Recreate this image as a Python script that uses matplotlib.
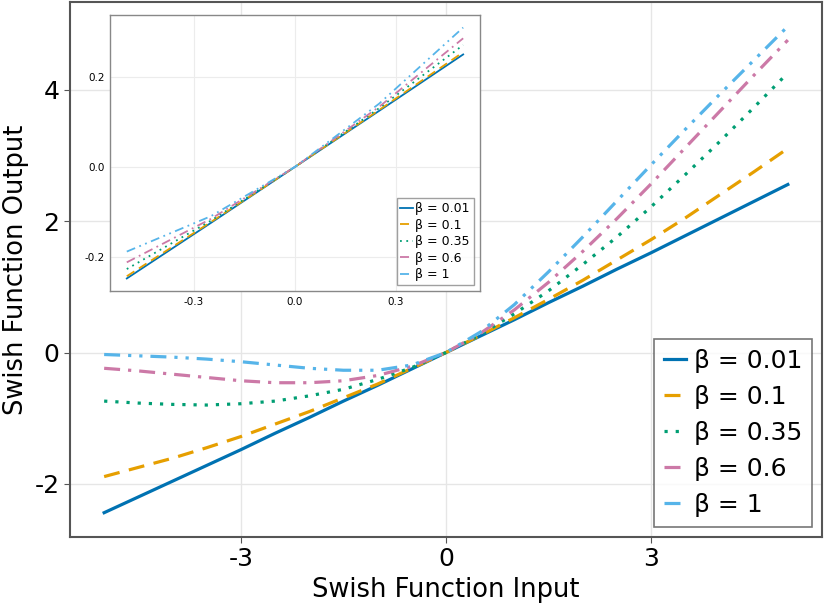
import matplotlib.pyplot as plt

# values
x_main = [-5, -4.5, -4, -3.5, -3, -2.5, -2, -1.5, -1, -0.5, 0,
          0.5, 1, 1.5, 2, 2.5, 3, 3.5, 4, 4.5, 5]
y_b001 = [-2.44, -2.20, -1.96, -1.72, -1.48, -1.23, -0.99, -0.74, -0.50, -0.25, 0.0,
          0.25, 0.50, 0.76, 1.01, 1.27, 1.52, 1.78, 2.04, 2.30, 2.56]
y_b01 = [-1.89, -1.75, -1.61, -1.45, -1.28, -1.09, -0.90, -0.69, -0.48, -0.24, 0.0,
         0.26, 0.53, 0.81, 1.10, 1.41, 1.72, 2.05, 2.40, 2.75, 3.11]
y_b035 = [-0.74, -0.77, -0.79, -0.80, -0.78, -0.74, -0.66, -0.56, -0.41, -0.23, 0.0,
          0.27, 0.59, 0.94, 1.34, 1.76, 2.22, 2.71, 3.21, 3.73, 4.26]
y_b06 = [-0.24, -0.28, -0.33, -0.38, -0.43, -0.46, -0.46, -0.43, -0.35, -0.21, 0.0,
         0.29, 0.65, 1.07, 1.54, 2.04, 2.57, 3.12, 3.67, 4.22, 4.76]
y_b1 = [-0.03, -0.05, -0.07, -0.10, -0.14, -0.19, -0.24, -0.27, -0.27, -0.19, 0.0,
        0.31, 0.73, 1.23, 1.76, 2.31, 2.86, 3.40, 3.93, 4.45, 4.97]

x_zoom = [-0.5, -0.25, 0.0, 0.25, 0.5]
z_b001 = [-0.249, -0.125, 0.0, 0.125, 0.251]
z_b01 = [-0.244, -0.123, 0.0, 0.127, 0.256]
z_b035 = [-0.228, -0.120, 0.0, 0.131, 0.272]
z_b06 = [-0.213, -0.116, 0.0, 0.134, 0.287]
z_b1 = [-0.189, -0.110, 0.0, 0.141, 0.311]

labels = ['β = 0.01', 'β = 0.1', 'β = 0.35', 'β = 0.6', 'β = 1']
colors = ['#0072B2', '#E69F00', '#009E73', '#CC79A7', '#56B4E9']
styles = ['-', (0, (5, 3)), (0, (1, 2.5)), (0, (5, 2.5, 1, 2.5)),
          (0, (5, 2.5, 1, 2.5, 1, 2.5))]

main_series = [y_b001, y_b01, y_b035, y_b06, y_b1]
zoom_series = [z_b001, z_b01, z_b035, z_b06, z_b1]

fig = plt.figure(figsize=(8.25, 6.15), dpi=100)
ax = fig.add_axes([0.0848, 0.1268, 0.9116, 0.87])

for ys, lab, c, ls in zip(main_series, labels, colors, styles):
    ax.plot(x_main, ys, color=c, linestyle=ls, linewidth=2.3, label=lab)

ax.set_xticks([-3, 0, 3])
ax.set_yticks([-2, 0, 2, 4])
ax.set_xticklabels(['-3', '0', '3'])
ax.set_yticklabels(['-2', '0', '2', '4'])
ax.tick_params(labelsize=18, length=4, color='#555555')
ax.set_xlabel('Swish Function Input', fontsize=18.5)
ax.set_ylabel('Swish Function Output', fontsize=18.5)
ax.grid(True, color='#e6e6e6', linewidth=1)
for s in ax.spines.values():
    s.set_color('#555555')
    s.set_linewidth(1.5)

leg = ax.legend(loc='lower right', fontsize=18, handlelength=0.9,
                handletextpad=0.3, labelspacing=0.48, fancybox=False,
                borderaxespad=0.4, borderpad=0.4)
leg.get_frame().set_edgecolor('#555555')
leg.get_frame().set_linewidth(1.2)

# inset zoomed around the origin
ins = fig.add_axes([0.1333, 0.5268, 0.4485, 0.4488])
for ys, lab, c, ls in zip(zoom_series, labels, colors, styles):
    ins.plot(x_zoom, ys, color=c, linestyle=ls, linewidth=1.3, label=lab)
ins.set_xticks([-0.3, 0.0, 0.3])
ins.set_yticks([-0.2, 0.0, 0.2])
ins.set_xticklabels(['-0.3', '0.0', '0.3'])
ins.set_yticklabels(['-0.2', '0.0', '0.2'])
ins.tick_params(labelsize=7.5, length=0, pad=4)
ins.grid(True, color='#ececec', linewidth=0.8)
for s in ins.spines.values():
    s.set_color('#888888')
    s.set_linewidth(1.0)
ileg = ins.legend(loc='lower right', fontsize=9, handlelength=1.0,
                  handletextpad=0.2, labelspacing=0.28, fancybox=False,
                  borderaxespad=0.5, borderpad=0.3)
ileg.get_frame().set_edgecolor('#888888')

fig.savefig('out.png', dpi=100)
